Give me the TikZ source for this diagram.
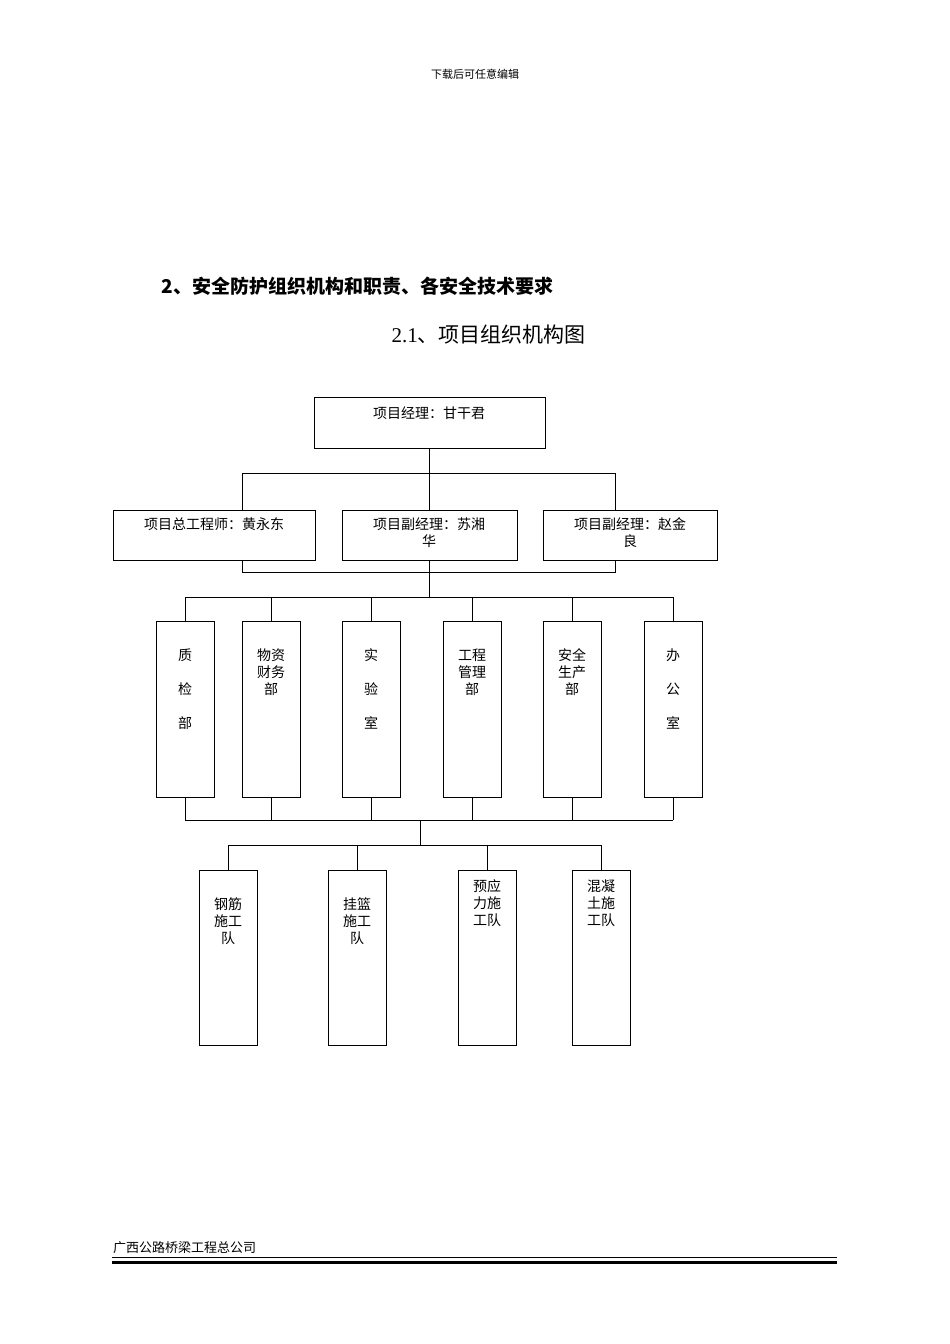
\documentclass[tikz,border=0pt]{standalone}
\usepackage{fontspec}
\setmainfont{Liberation Serif}
\newfontfamily\cjk{Noto Sans CJK SC}
\begin{document}
\begin{tikzpicture}[x=1pt,y=-1pt,
  bx/.style={draw,line width=0.9pt,inner sep=0},
  tx/.style={font=\cjk\fontsize{14}{17}\selectfont,align=center,anchor=north},
  ln/.style={line width=0.9pt}]
\useasboundingbox (0,0) rectangle (950,1344);
\node[font=\cjk\fontsize{11}{13}\selectfont] (hdr) at (475,74) {下载后可任意编辑};
\node[font=\cjk\bfseries\fontsize{19}{22}\selectfont,anchor=west] (h1) at (158,286) {2、安全防护组织机构和职责、各安全技术要求};
\node[font=\fontsize{21}{24}\selectfont,anchor=west] (h2) at (388,335) {2.1\cjk、项目组织机构图};
% top
\draw[bx] (314,397) rectangle (545,448);
\node[tx] (pm) at (429,403) {项目经理：甘干君};
\coordinate (pmb) at (429,448);
% level1
\draw[bx] (113,510) rectangle (315,560);
\draw[bx] (342,510) rectangle (517,560);
\draw[bx] (543,510) rectangle (717,560);
\node[tx] (a1) at (214,514) {项目总工程师：黄永东};
\node[tx] (a2) at (429,514) {项目副经理：苏湘\\华};
\node[tx] (a3) at (630,514) {项目副经理：赵金\\良};
\draw[ln] (pmb) -- (429,510);
\draw[ln] (242,510) -- (242,473) -- (615,473) -- (615,510);
\draw[ln] (242,560) -- (242,572) -- (615,572) -- (615,560);
\draw[ln] (429,560) -- (429,597);
\draw[ln] (185,621) -- (185,597) -- (673,621|-0,597) -- (673,621);
% level2
\foreach \c/\t/\n in {185/{质\\[17pt]检\\[17pt]部}/d1,271/{物资\\财务\\部}/d2,371/{实\\[17pt]验\\[17pt]室}/d3,472/{工程\\管理\\部}/d4,572/{安全\\生产\\部}/d5,673/{办\\[17pt]公\\[17pt]室}/d6}{
  \draw[bx] (\c-29,621) rectangle (\c+29,797);
  \node[tx] (\n) at (\c,645) {\t};
  \draw[ln] (\c,597) -- (\c,621);
  \draw[ln] (\c,797) -- (\c,820);
}
\draw[ln] (185,820) -- (673,820);
\draw[ln] (420,820) -- (420,845);
\draw[ln] (228,845) -- (601,845);
% level3
\foreach \c/\t/\y/\n in {228/{钢筋\\施工\\队}/894/e1,357/{挂篮\\施工\\队}/894/e2,487/{预应\\力施\\工队}/876/e3,601/{混凝\\土施\\工队}/876/e4}{
  \draw[bx] (\c-29,870) rectangle (\c+29,1045);
  \node[tx] (\n) at (\c,\y) {\t};
  \draw[ln] (\c,845) -- (\c,870);
}
% footer
\node[font=\cjk\fontsize{13}{15}\selectfont,anchor=south west,inner sep=0] (ft) at (113,1254) {广西公路桥梁工程总公司};
\draw[line width=0.8pt] (112,1257.5) -- (837,1257.5);
\draw[line width=3pt] (112,1262) -- (837,1262);
\end{tikzpicture}
\end{document}
